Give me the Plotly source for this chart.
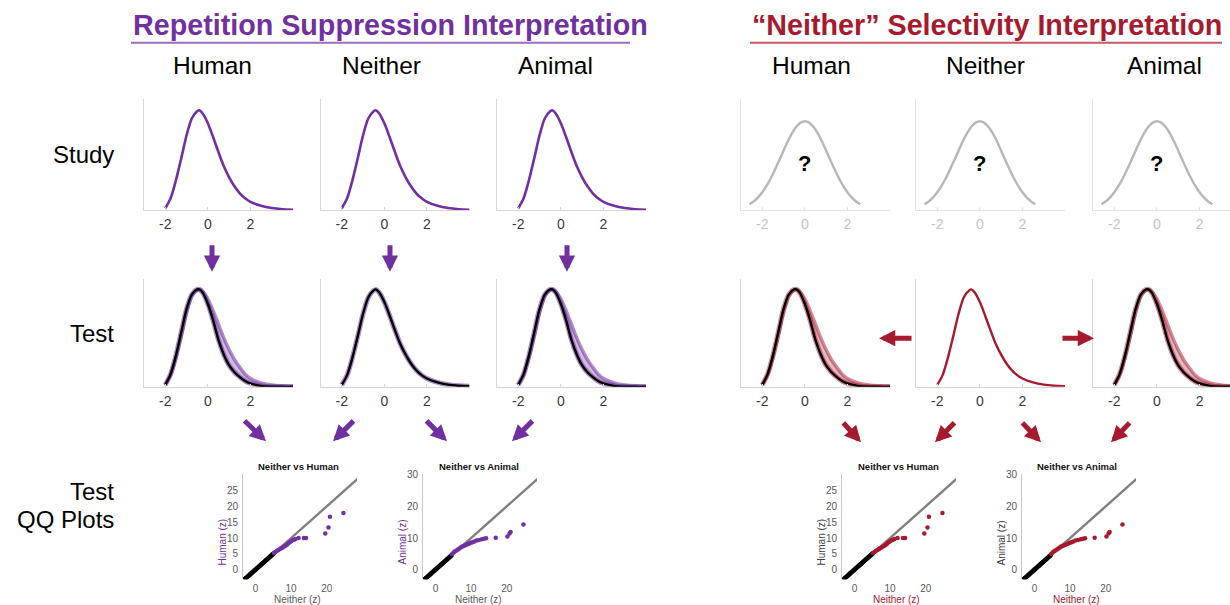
import plotly.graph_objects as go

W, H = 1230, 605
FONT = "Liberation Sans, Arial, sans-serif"
PURPLE = "#7030A0"
CRIMSON = "#A6192E"
PURPLE_BAND = "rgba(112,48,160,0.32)"
PURPLE_EDGE = "rgba(112,48,160,0.55)"
CRIMSON_BAND = "rgba(166,25,46,0.30)"
CRIMSON_EDGE = "rgba(166,25,46,0.50)"

# ---------------- data ----------------
dist_x = [-2.0, -1.75, -1.5, -1.25, -1.0, -0.75, -0.5, -0.4, -0.25, 0.0, 0.25, 0.5,
          0.75, 1.0, 1.25, 1.5, 1.75, 2.0, 2.5, 3.0, 3.5, 4.0]
study_y = [0.02, 0.12, 0.30, 0.52, 0.75, 0.92, 0.99, 1.00, 0.97, 0.87, 0.73, 0.58,
           0.44, 0.33, 0.24, 0.17, 0.12, 0.085, 0.045, 0.022, 0.011, 0.006]
test_narrow_y = [0.02, 0.13, 0.32, 0.56, 0.80, 0.95, 1.00, 1.00, 0.97, 0.85, 0.68, 0.48,
                 0.33, 0.22, 0.15, 0.10, 0.06, 0.035, 0.01, 0.002, 0.0, 0.0]
test_wide_y = [0.02, 0.12, 0.30, 0.52, 0.76, 0.93, 0.995, 1.00, 0.98, 0.90, 0.78, 0.64,
               0.50, 0.38, 0.28, 0.20, 0.13, 0.085, 0.04, 0.02, 0.01, 0.005]
null_x = [-2.6, -2.4, -2.2, -2.0, -1.8, -1.6, -1.4, -1.2, -1.0, -0.8, -0.6, -0.4, -0.2, 0.0,
          0.2, 0.4, 0.6, 0.8, 1.0, 1.2, 1.4, 1.6, 1.8, 2.0, 2.2, 2.4, 2.6]
null_y = [0.061, 0.089, 0.129, 0.181, 0.245, 0.320, 0.408, 0.501, 0.596, 0.690, 0.771, 0.835, 0.876, 0.89,
          0.876, 0.835, 0.771, 0.690, 0.596, 0.501, 0.408, 0.320, 0.245, 0.181, 0.129, 0.089, 0.061]

column_labels = ["Human", "Neither", "Animal"]
row_labels = ["Study", "Test", "Test", "QQ Plots"]
titles = ["Repetition Suppression Interpretation", "\u201cNeither\u201d Selectivity Interpretation"]
dist_ticks = [-2, 0, 2]
dist_tick_text = ["-2", "0", "2"]

qq_titles = ["Neither vs Human", "Neither vs Animal"]
qq_ylabels = ["Human (z)", "Animal (z)"]
qq_xlabel = "Neither (z)"
qq_diag = [-3, 30]
qq_h_black = [-3.0, -2.7, -2.4, -2.1, -1.8, -1.5, -1.2, -0.9, -0.6, -0.3, 0.0, 0.3, 0.6, 0.9,
              1.2, 1.5, 1.8, 2.1, 2.4, 2.7, 3.0, 3.3, 3.6, 3.9, 4.2, 4.5, 4.8, 5.1]
qq_a_black = [-3.0, -2.7, -2.4, -2.1, -1.8, -1.5, -1.2, -0.9, -0.6, -0.3, 0.0, 0.3, 0.6, 0.9,
              1.2, 1.5, 1.8, 2.1, 2.4, 2.7, 3.0, 3.3, 3.6, 3.9, 4.2, 4.5]
qq_h_sel_x = [5.2, 5.6, 6.0, 6.4, 6.8, 7.2, 7.6, 8.0, 8.4, 8.8, 9.2, 9.6, 10.0, 10.4, 10.8,
              11.2, 12.1, 13.6, 14.2, 19.6, 20.5, 20.9, 24.7]
qq_h_sel_y = [5.3, 5.6, 5.9, 6.2, 6.5, 6.8, 7.0, 7.3, 7.6, 7.9, 8.3, 8.7, 9.0, 9.3, 9.5,
              9.7, 10.0, 10.0, 10.0, 11.4, 13.3, 16.7, 17.9]
qq_a_sel_x = [4.7, 5.1, 5.5, 5.9, 6.3, 6.7, 7.1, 7.5, 7.9, 8.3, 8.7, 9.1, 9.5, 9.9, 10.4,
              10.9, 11.5, 12.2, 13.0, 13.6, 14.2, 16.9, 20.2, 20.8, 21.1, 24.7]
qq_a_sel_y = [5.0, 5.4, 5.8, 6.1, 6.4, 6.7, 7.0, 7.3, 7.5, 7.7, 7.9, 8.1, 8.3, 8.5, 8.7,
              8.9, 9.2, 9.4, 9.6, 9.8, 9.9, 10.1, 10.5, 11.4, 11.9, 14.3]
qq_h_ticks = [0, 5, 10, 15, 20, 25]
qq_a_ticks = [0, 10, 20, 30]
qq_x_ticks = [0, 10, 20]

# ---------------- layout helpers ----------------
fig = go.Figure()
layout = dict(width=W, height=H, margin=dict(l=0, r=0, t=0, b=0),
              paper_bgcolor="white", plot_bgcolor="rgba(0,0,0,0)",
              showlegend=False, font=dict(family=FONT, color="#000"))
annotations = []
shapes = []
axis_count = [0]


def px(xp):
    return xp / W


def py(yp):
    return 1 - yp / H


def note(xp, yp, text, size, color, xanchor="center", yanchor="middle", **kw):
    annotations.append(dict(x=px(xp), y=py(yp), xref="paper", yref="paper", text=text,
                            showarrow=False, xanchor=xanchor, yanchor=yanchor,
                            font=dict(size=size, color=color, family=FONT), **kw))


def new_axes(xdom, ydom, xrange, yrange, xstyle, ystyle):
    axis_count[0] += 1
    n = axis_count[0]
    s = "" if n == 1 else str(n)
    layout["xaxis" + s] = dict(domain=[px(xdom[0]), px(xdom[1])], range=xrange,
                               anchor="y" + s, fixedrange=True, **xstyle)
    layout["yaxis" + s] = dict(domain=[py(ydom[1]), py(ydom[0])], range=yrange,
                               anchor="x" + s, fixedrange=True, **ystyle)
    return "x" + s, "y" + s


def dist_styles(faded=False):
    lc = "#e3e3e3" if faded else "#d6d6d6"
    tc = "#c4c4c4" if faded else "#3a3a3a"
    xs = dict(showgrid=False, zeroline=False, showline=True, linecolor=lc, linewidth=1,
              tickvals=dist_ticks, ticktext=dist_tick_text, ticks="inside", ticklen=3,
              tickcolor=lc, tickfont=dict(size=14, color=tc, family=FONT),
              ticklabelstandoff=1)
    ys = dict(showgrid=False, zeroline=False, showline=True, linecolor=lc, linewidth=1,
              showticklabels=False, ticks="")
    return xs, ys


def line(xa, ya, xs, ys, color, width, **kw):
    fig.add_trace(go.Scatter(x=xs, y=ys, xaxis=xa, yaxis=ya, mode="lines",
                             line=dict(color=color, width=width, shape="spline", smoothing=0.8),
                             hoverinfo="skip", **kw))


def band(xa, ya, fillc, edgec):
    fig.add_trace(go.Scatter(x=dist_x, y=test_narrow_y, xaxis=xa, yaxis=ya, mode="lines",
                             line=dict(width=0, shape="spline", smoothing=0.8), hoverinfo="skip"))
    fig.add_trace(go.Scatter(x=dist_x, y=test_wide_y, xaxis=xa, yaxis=ya, mode="lines",
                             fill="tonexty", fillcolor=fillc,
                             line=dict(color=edgec, width=3.5, shape="spline", smoothing=0.8),
                             hoverinfo="skip"))


# column geometry (pixels)
left_cols = [(144, 293), (320.5, 469.5), (497, 646)]
right_cols = [(741, 890), (916, 1065), (1093, 1230)]
right_ranges = [[-3, 4], [-3, 4], [-3, 3.43]]
study_rows = (95, 207)
test_rows = (276, 385)

# ---------------- left block: study ----------------
for c in left_cols:
    xs_, ys_ = dist_styles()
    xa, ya = new_axes(c, study_rows, [-3, 4], [0, 1.11], xs_, ys_)
    line(xa, ya, dist_x, study_y, PURPLE, 2.6)

# ---------------- left block: test ----------------
for i, c in enumerate(left_cols):
    xs_, ys_ = dist_styles()
    xa, ya = new_axes(c, test_rows, [-3, 4], [0, 1.11], xs_, ys_)
    if i == 1:
        line(xa, ya, dist_x, study_y, PURPLE_EDGE, 5)
        line(xa, ya, dist_x, study_y, "#000", 2.4)
    else:
        band(xa, ya, PURPLE_BAND, PURPLE_EDGE)
        line(xa, ya, dist_x, test_narrow_y, PURPLE_EDGE, 5)
        line(xa, ya, dist_x, test_narrow_y, "#000", 2.4)

# ---------------- right block: study (unknown) ----------------
for c, r in zip(right_cols, right_ranges):
    xs_, ys_ = dist_styles(faded=True)
    xa, ya = new_axes(c, study_rows, r, [0, 1.11], xs_, ys_)
    line(xa, ya, null_x, null_y, "#b7b7b7", 2.4)
    annotations.append(dict(x=0, y=0.47, xref=xa, yref=ya, text="<b>?</b>", showarrow=False,
                            xanchor="center", yanchor="middle",
                            font=dict(size=22, color="#000", family=FONT)))

# ---------------- right block: test ----------------
for i, (c, r) in enumerate(zip(right_cols, right_ranges)):
    xs_, ys_ = dist_styles()
    xa, ya = new_axes(c, test_rows, r, [0, 1.11], xs_, ys_)
    if i == 1:
        line(xa, ya, dist_x, study_y, CRIMSON, 2.4)
    else:
        band(xa, ya, CRIMSON_BAND, CRIMSON_EDGE)
        line(xa, ya, dist_x, test_narrow_y, CRIMSON_EDGE, 5)
        line(xa, ya, dist_x, test_narrow_y, "#000", 2.4)

# ---------------- QQ plots ----------------
qq_cols = [(243, 357), (423, 537), (842, 956), (1022, 1136)]
qq_rows = (473, 579)
qq_title_x = [298, 479, 898, 1077]
qq_ylab_x = [223, 403, 822, 1002]
qq_xlab_x = [297, 478, 896, 1076]
for k, c in enumerate(qq_cols):
    is_animal = k % 2 == 1
    right = k >= 2
    color = CRIMSON if right else PURPLE
    xs_ = dict(showgrid=False, zeroline=False, showline=False, tickvals=qq_x_ticks,
               ticks="", tickfont=dict(size=10, color="#595959", family=FONT),
               ticklabelstandoff=2)
    ys_ = dict(showgrid=False, zeroline=False, showline=True, linecolor="#c8c8c8", linewidth=1,
               tickvals=qq_a_ticks if is_animal else qq_h_ticks, ticks="",
               tickfont=dict(size=10, color="#595959", family=FONT), ticklabelstandoff=2)
    xa, ya = new_axes(c, qq_rows, [-3.5, 28.5], [-3, 30.2], xs_, ys_)
    fig.add_trace(go.Scatter(x=qq_diag, y=qq_diag, xaxis=xa, yaxis=ya, mode="lines",
                             line=dict(color="#808080", width=2.4), hoverinfo="skip"))
    blk = qq_a_black if is_animal else qq_h_black
    fig.add_trace(go.Scatter(x=blk, y=blk, xaxis=xa, yaxis=ya, mode="markers",
                             marker=dict(color="#000", size=4.8), hoverinfo="skip"))
    sx = qq_a_sel_x if is_animal else qq_h_sel_x
    sy = qq_a_sel_y if is_animal else qq_h_sel_y
    fig.add_trace(go.Scatter(x=sx, y=sy, xaxis=xa, yaxis=ya, mode="markers",
                             marker=dict(color=color, size=4.5), hoverinfo="skip"))
    note(qq_title_x[k], 465, "<b>" + qq_titles[k % 2] + "</b>", 9.5, "#111")
    note(qq_ylab_x[k], 542, qq_ylabels[k % 2], 10, "#404040" if right else PURPLE, textangle=-90)
    note(qq_xlab_x[k], 599, qq_xlabel, 10, CRIMSON if right else "#595959")

# ---------------- text ----------------
note(131, 20.5, "<b>" + titles[0] + "</b>", 28.7, PURPLE, xanchor="left")
note(750, 20.5, "<b>" + titles[1] + "</b>", 28.7, CRIMSON, xanchor="left")
shapes.append(dict(type="line", xref="paper", yref="paper", x0=px(131), x1=px(630),
                   y0=py(38), y1=py(38), line=dict(color="#9a6cc0", width=2)))
shapes.append(dict(type="line", xref="paper", yref="paper", x0=px(750), x1=px(1222),
                   y0=py(38), y1=py(38), line=dict(color="#c8576a", width=2)))

for lab, xc in zip(column_labels, [212, 381, 555]):
    note(xc, 61, lab, 24.5, "#000")
for lab, xc in zip(column_labels, [811, 985, 1164]):
    note(xc, 61, lab, 24.5, "#000")

for lab, yc in zip(row_labels, [151, 331, 491, 519]):
    note(116, yc, lab, 24, "#000", xanchor="right")


# ---------------- arrows ----------------
def arrow(tail, head, color):
    annotations.append(dict(x=px(head[0]), y=py(head[1]), xref="paper", yref="paper",
                            ax=tail[0] - head[0], ay=tail[1] - head[1], axref="pixel", ayref="pixel",
                            text="", showarrow=True, arrowhead=2, arrowsize=0.65, arrowwidth=5,
                            arrowcolor=color, standoff=0))


for xc in [212, 390, 567]:
    arrow((xc, 241), (xc, 269), PURPLE)
for t, h in [((243, 418), (266, 440)), ((355, 418), (333, 440)),
             ((425, 418), (447, 440)), ((534, 418), (512, 440))]:
    arrow(t, h, PURPLE)
for t, h in [((842, 420), (861, 441)), ((956, 420), (935, 441)),
             ((1021, 420), (1041, 441)), ((1131, 420), (1111, 441))]:
    arrow(t, h, CRIMSON)
arrow((913, 336), (879, 336), CRIMSON)
arrow((1061, 336), (1094, 336), CRIMSON)

layout["annotations"] = annotations
layout["shapes"] = shapes
fig.update_layout(**layout)
fig.write_html("out.html")
